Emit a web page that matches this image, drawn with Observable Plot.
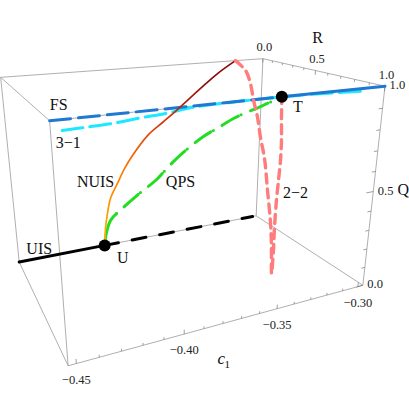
<!DOCTYPE html>
<html><head><meta charset="utf-8">
<script src="https://cdn.jsdelivr.net/npm/d3@7"></script>
<script src="https://cdn.jsdelivr.net/npm/@observablehq/plot@0.6"></script>
<style>html,body{margin:0;padding:0;background:#fff}#chart{width:409px;height:409px}</style>
</head><body><div id="chart"></div>
<script>
// ---------- axis domains and ticks ----------
const c1Domain = [-0.4535, -0.2967];
const rDomain = [0, 1];
const qDomain = [0, 1];
const c1MajorTicks = [-0.45, -0.40, -0.35, -0.30];
const c1TickLabels = ["−0.45", "−0.40", "−0.35", "−0.30"];
const c1MinorTicks = [-0.45,-0.44,-0.43,-0.42,-0.41,-0.40,-0.39,-0.38,-0.37,-0.36,-0.35,-0.34,-0.33,-0.32,-0.31,-0.30];
const rqMajorTicks = [0, 0.5, 1];
const rqTickLabels = ["0.0", "0.5", "1.0"];
const rqMinorTicks = [0, 0.1, 0.2, 0.3, 0.4, 0.5, 0.6, 0.7, 0.8, 0.9, 1];

// ---------- series (c1, R, Q) ----------
const pointU = {c1: -0.403, R: 0, Q: 0};
const pointT = {c1: -0.354, R: 1, Q: 1};

const uisC1 = [-0.4535, -0.403];             // R = 0, Q = 0 (solid)
const uisDashC1 = [-0.403, -0.2995];         // R = 0, Q = 0 (dashed)

const fsDashC1 = [-0.4535, -0.354];          // R = 1, Q = 1
const fsSolidC1 = [-0.354, -0.2967];

const c31C1 = [-0.4492, -0.4417, -0.4307, -0.4186, -0.4074, -0.3973, -0.3791, -0.3443, -0.3099];
const c31R  = [1, 1, 1, 1, 1, 1, 1, 1, 1];
const c31Q  = [0.961, 0.963, 0.966, 0.976, 0.983, 0.994, 0.999, 0.999, 0.988];

const nuisC1 = [-0.403, -0.402, -0.4006, -0.3981, -0.3934, -0.3888, -0.3836, -0.3739, -0.3643, -0.3539, -0.3395, -0.3282, -0.3161];
const nuisR  = [0, 0, 0, 0, 0, 0, 0, 0, 0, 0, 0, 0, 0];
const nuisQ  = [0, 0.104, 0.182, 0.281, 0.365, 0.445, 0.515, 0.619, 0.684, 0.754, 0.857, 0.934, 1.0];

const qpsSolidC1 = [-0.403, -0.4063, -0.4076, -0.4061];
const qpsSolidR  = [0, 0.146, 0.265, 0.323];
const qpsSolidQ  = [0, 0.146, 0.265, 0.323];
const qpsC1 = [-0.4061, -0.4031, -0.3984, -0.3935, -0.3903, -0.3866, -0.3816, -0.3766, -0.3711, -0.3617, -0.354];
const qpsR  = [0.323, 0.384, 0.477, 0.556, 0.661, 0.744, 0.820, 0.865, 0.912, 0.959, 1];
const qpsQ  = [0.323, 0.384, 0.477, 0.556, 0.661, 0.744, 0.820, 0.865, 0.912, 0.959, 1];

const b22C1 = [-0.3161, -0.3111, -0.3102, -0.3113, -0.3118, -0.3135, -0.3147, -0.3184, -0.3221, -0.3254, -0.3325, -0.3318, -0.3360, -0.3400, -0.3424, -0.3448, -0.3475, -0.3510, -0.354];
const b22R  = [0, 0.036, 0.080, 0.137, 0.194, 0.258, 0.326, 0.424, 0.520, 0.586, 0.699, 0.695, 0.751, 0.810, 0.850, 0.890, 0.926, 0.965, 1];
const b22Q  = [1, 0.945, 0.876, 0.790, 0.702, 0.603, 0.499, 0.347, 0.200, 0.098, 0, 0.129, 0.287, 0.458, 0.570, 0.685, 0.790, 0.899, 1];

// ---------- camera: fitted from where the box corners appear on screen ----------
const camCalib = [
  [0,0,1, 1,77],[0,1,1, 48,120],[0,0,0, 18,262],[0,1,0, 68,365],
  [1,0,1, 262,58],[1,1,1, 385,86],[1,0,0, 256,215],[1,1,0, 362,285]
];
const camTickCalib = [[-0.45, 76, 363],[-0.40, 184, 333.4],[-0.35, 277, 308.1],[-0.30, 357, 286.4]];

const nc = v => (v - c1Domain[0]) / (c1Domain[1] - c1Domain[0]);
const nr = v => (v - rDomain[0]) / (rDomain[1] - rDomain[0]);
const nq = v => (v - qDomain[0]) / (qDomain[1] - qDomain[0]);

const cam = (() => {
  const pts = camCalib.concat(camTickCalib.map(([c, u, v]) => [nc(c), 1, 0, u, v]));
  const A = [], b = [];
  for (const [X, Y, Z, u, v] of pts) {
    A.push([X, Y, Z, 1, 0, 0, 0, 0, -u * X, -u * Y, -u * Z]); b.push(u);
    A.push([0, 0, 0, 0, X, Y, Z, 1, -v * X, -v * Y, -v * Z]); b.push(v);
  }
  const n = 11;
  const M = Array.from({length: n}, () => new Array(n + 1).fill(0));
  for (let r = 0; r < A.length; r++)
    for (let i = 0; i < n; i++) {
      for (let j = 0; j < n; j++) M[i][j] += A[r][i] * A[r][j];
      M[i][n] += A[r][i] * b[r];
    }
  for (let i = 0; i < n; i++) {
    let p = i;
    for (let k = i + 1; k < n; k++) if (Math.abs(M[k][i]) > Math.abs(M[p][i])) p = k;
    [M[i], M[p]] = [M[p], M[i]];
    for (let k = 0; k < n; k++) {
      if (k === i) continue;
      const f = M[k][i] / M[i][i];
      for (let j = i; j <= n; j++) M[k][j] -= f * M[i][j];
    }
  }
  return M.map((row, i) => row[n] / row[i]);
})();

function projN(X, Y, Z) {
  const p = cam;
  const w = p[8] * X + p[9] * Y + p[10] * Z + 1;
  return {x: (p[0] * X + p[1] * Y + p[2] * Z + p[3]) / w, y: (p[4] * X + p[5] * Y + p[6] * Z + p[7]) / w};
}
const proj = (c1, R, Q) => projN(nc(c1), nr(R), nq(Q));
const series = (cs, rs, qs) => cs.map((c, i) => proj(c, rs[i], qs[i]));

// ---------- box ----------
const corners = [];
for (const X of [0, 1]) for (const Y of [0, 1]) for (const Z of [0, 1]) corners.push([X, Y, Z]);
const edges = [];
for (let i = 0; i < 8; i++) for (let j = i + 1; j < 8; j++) {
  const d = corners[i].reduce((s, v, k) => s + Math.abs(v - corners[j][k]), 0);
  if (d === 1) { const a = projN(...corners[i]), b = projN(...corners[j]); edges.push({x1: a.x, y1: a.y, x2: b.x, y2: b.y}); }
}
const tick = (a, b) => ({x1: a.x, y1: a.y, x2: b.x, y2: b.y});
const ticks = [];
for (const t of c1MinorTicks) {
  const major = c1MajorTicks.some(m => Math.abs(m - t) < 1e-9);
  ticks.push(tick(proj(t, 1, 0), projN(nc(t), 1, major ? 0.022 : 0.012)));
}
for (const t of rqMinorTicks) {
  const major = rqMajorTicks.includes(t);
  ticks.push(tick(projN(1, nr(t), 1), projN(1, nr(t), 1 - (major ? 0.022 : 0.012))));
  ticks.push(tick(projN(1, 1, nq(t)), projN(1 - (major ? 0.028 : 0.015), 1, nq(t))));
}
const c1Labels = c1MajorTicks.map((t, i) => ({...proj(t, 1, 0), text: c1TickLabels[i]}));
const rLabels = rqMajorTicks.map((t, i) => ({...projN(1, nr(t), 1), text: rqTickLabels[i]}));
const qLabels = rqMajorTicks.map((t, i) => ({...projN(1, 1, nq(t)), text: rqTickLabels[i]}));

// ---------- curves ----------
const uis = series(uisC1, [0, 0], [0, 0]);
const uisDash = series(uisDashC1, [0, 0], [0, 0]);
const fsDash = series(fsDashC1, [1, 1], [1, 1]);
const fsSolid = series(fsSolidC1, [1, 1], [1, 1]);
const c31 = series(c31C1, c31R, c31Q);
const nuis = series(nuisC1, nuisR, nuisQ);
const qpsSolid = series(qpsSolidC1, qpsSolidR, qpsSolidQ);
const qps = series(qpsC1, qpsR, qpsQ);
const b22 = series(b22C1, b22R, b22Q);
const pU = proj(pointU.c1, pointU.R, pointU.Q);
const pT = proj(pointT.c1, pointT.R, pointT.Q);

const serif = "'Liberation Serif', 'Times New Roman', serif";
const lab = (p, text, dx, dy, extra = {}) =>
  Plot.text([p], {x: "x", y: "y", text: () => text, dx, dy, fontSize: 16, fontFamily: serif, fill: "#111", ...extra});

const chart = Plot.plot({
  width: 409, height: 409,
  margin: 0,
  style: {fontFamily: serif, background: "#fff"},
  x: {domain: [0, 409], range: [0, 409], axis: null},
  y: {domain: [0, 409], range: [0, 409], axis: null},
  marks: [
    Plot.link(edges, {x1: "x1", y1: "y1", x2: "x2", y2: "y2", stroke: "#9a9a9a", strokeWidth: 0.8}),
    Plot.link(ticks, {x1: "x1", y1: "y1", x2: "x2", y2: "y2", stroke: "#777", strokeWidth: 0.7}),
    Plot.text(c1Labels, {x: "x", y: "y", text: "text", dy: 16, fontSize: 12.5, fontFamily: serif, fill: "#222"}),
    Plot.text(rLabels, {x: "x", y: "y", text: "text", dx: 1.5, dy: -11.5, fontSize: 12.5, fontFamily: serif, fill: "#222"}),
    Plot.text(qLabels, {x: "x", y: "y", text: "text", dx: 4.5, dy: -1, textAnchor: "start", fontSize: 12.5, fontFamily: serif, fill: "#222"}),
    Plot.line(c31, {x: "x", y: "y", stroke: "#1ee8ff", strokeWidth: 3, strokeDasharray: "21,7", curve: "catmull-rom"}),
    Plot.line(fsDash, {x: "x", y: "y", stroke: "#1f78d1", strokeWidth: 3, strokeDasharray: "21,8"}),
    Plot.line(fsSolid, {x: "x", y: "y", stroke: "#1f78d1", strokeWidth: 3}),
    Plot.line(uis, {x: "x", y: "y", stroke: "#000", strokeWidth: 3}),
    Plot.line(uisDash, {x: "x", y: "y", stroke: "#000", strokeWidth: 3, strokeDasharray: "14,14"}),
    Plot.line(qpsSolid, {x: "x", y: "y", stroke: "#22dd22", strokeWidth: 3, curve: "catmull-rom"}),
    Plot.line(qps, {x: "x", y: "y", stroke: "#22dd22", strokeWidth: 3, strokeDasharray: "0,10,19,3", curve: "catmull-rom"}),
    Plot.line(nuis, {x: "x", y: "y", stroke: "url(#nuisGrad)", strokeWidth: 1.7, curve: "catmull-rom"}),
    Plot.line(b22, {x: "x", y: "y", stroke: "#ff7c7c", strokeWidth: 3.4, strokeDasharray: "9,6", curve: "catmull-rom"}),
    Plot.dot([pU, pT], {x: "x", y: "y", r: 6, fill: "#000", stroke: null}),
    lab(fsDash[0], "FS", 9, -16),
    lab(c31[0], "3−1", 6, 12),
    lab(nuis[4], "NUIS", -22, -1),
    lab(qps[3], "QPS", 25, 1),
    lab(uis[0], "UIS", 20, -13),
    lab(pU, "U", 18, 12),
    lab(pT, "T", 16, 10),
    lab(b22[13], "2−2", 19, -8),
    lab(projN(0.5, 1, 0), "c", -11, 38, {fontStyle: "italic", fontSize: 17}),
    lab(projN(0.5, 1, 0), "1", -5, 43, {fontSize: 11}),
    lab(projN(1, 0.5, 1), "R", 2, -33),
    lab(projN(1, 1, 0.5), "Q", 30, -2)
  ]
});
const svg = d3.select(chart);
const defs = svg.insert("defs", ":first-child");
const g = defs.append("linearGradient").attr("id", "nuisGrad").attr("x1", 0).attr("y1", 1).attr("x2", 0.6).attr("y2", 0);
[[0, "#ffb300"], [0.35, "#ff7a00"], [0.65, "#d8400f"], [1, "#8b0a0a"]].forEach(([o, c]) =>
  g.append("stop").attr("offset", o).attr("stop-color", c));
document.getElementById("chart").appendChild(chart);
</script>
</body></html>
